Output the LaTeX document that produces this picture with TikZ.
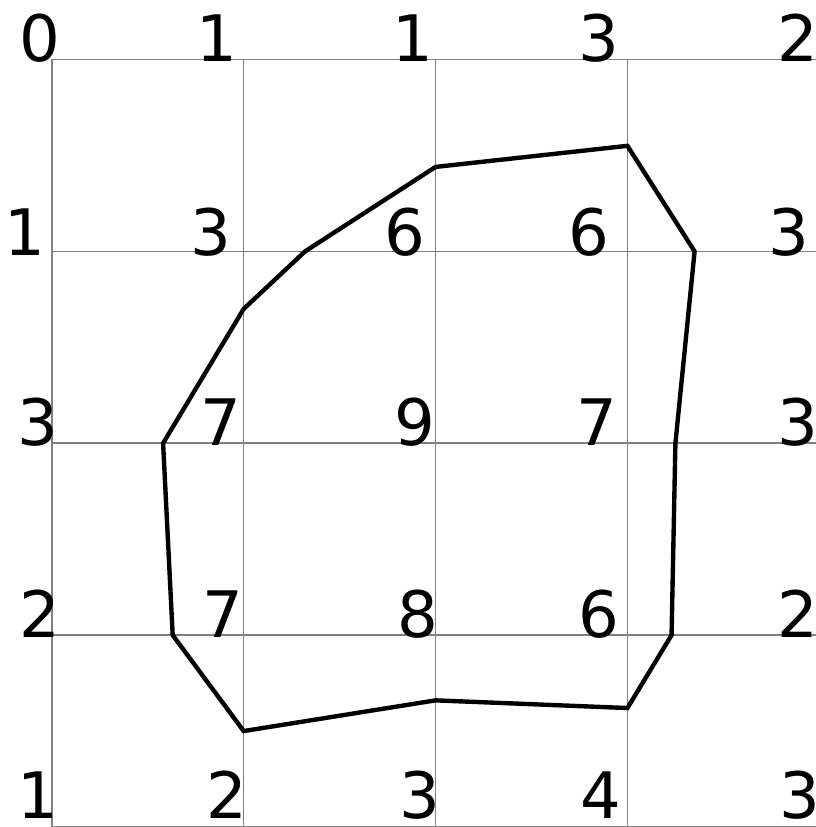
\documentclass[tikz,border=0pt]{standalone}
\usepackage{fontspec}
\setmainfont{DejaVu Sans}

\begin{document}
\begin{tikzpicture}[scale = 2,
        val/.style = {anchor=base, inner sep=0pt, font=\fontsize{19}{19}\selectfont}]
        \useasboundingbox (-0.27,0) rectangle (3.98,4.31);
        \draw[gray, line width=0.45pt] (0,0) grid (4,4);
        % values at the grid points
        \node[val] (A) at (-0.06,3.99) {0};
        \node[val] (B) at (0.86,3.99) {1};
        \node[val] (C) at (1.88,3.99) {1};
        \node[val] (D) at (2.85,3.99) {3};
        \node[val] (E) at (3.89,3.99) {2};
        \node[val] (F) at (-0.14,2.98) {1};
        \node[val] (G) at (0.83,2.98) {3};
        \node[val] (H) at (1.84,2.98) {6};
        \node[val] (I) at (2.80,2.98) {6};
        \node[val] (J) at (3.84,2.98) {3};
        \node[val] (K) at (-0.07,1.99) {3};
        \node[val] (L) at (0.88,1.99) {7};
        \node[val] (M) at (1.89,1.99) {9};
        \node[val] (N) at (2.84,1.99) {7};
        \node[val] (O) at (3.89,1.99) {3};
        \node[val] (P) at (-0.06,0.99) {2};
        \node[val] (Q) at (0.89,0.99) {7};
        \node[val] (R) at (1.91,0.99) {8};
        \node[val] (S) at (2.85,0.99) {6};
        \node[val] (T) at (3.89,0.99) {2};
        \node[val] (U) at (-0.07,0.045) {1};
        \node[val] (V) at (0.91,0.045) {2};
        \node[val] (W) at (1.92,0.045) {3};
        \node[val] (X) at (2.86,0.045) {4};
        \node[val] (Y) at (3.90,0.045) {3};
        % contour
        \draw[black, line width=1.3pt] (2,3.44) -- (3,3.55) -- (3.35,3) -- (3.25,2)
              -- (3.23,1) -- (3.00,0.62) -- (2,0.66) -- (1,0.5) -- (0.63,1)
              -- (0.58,2) -- (1,2.70) -- (1.32,3) -- cycle;
      \end{tikzpicture}
\end{document}
